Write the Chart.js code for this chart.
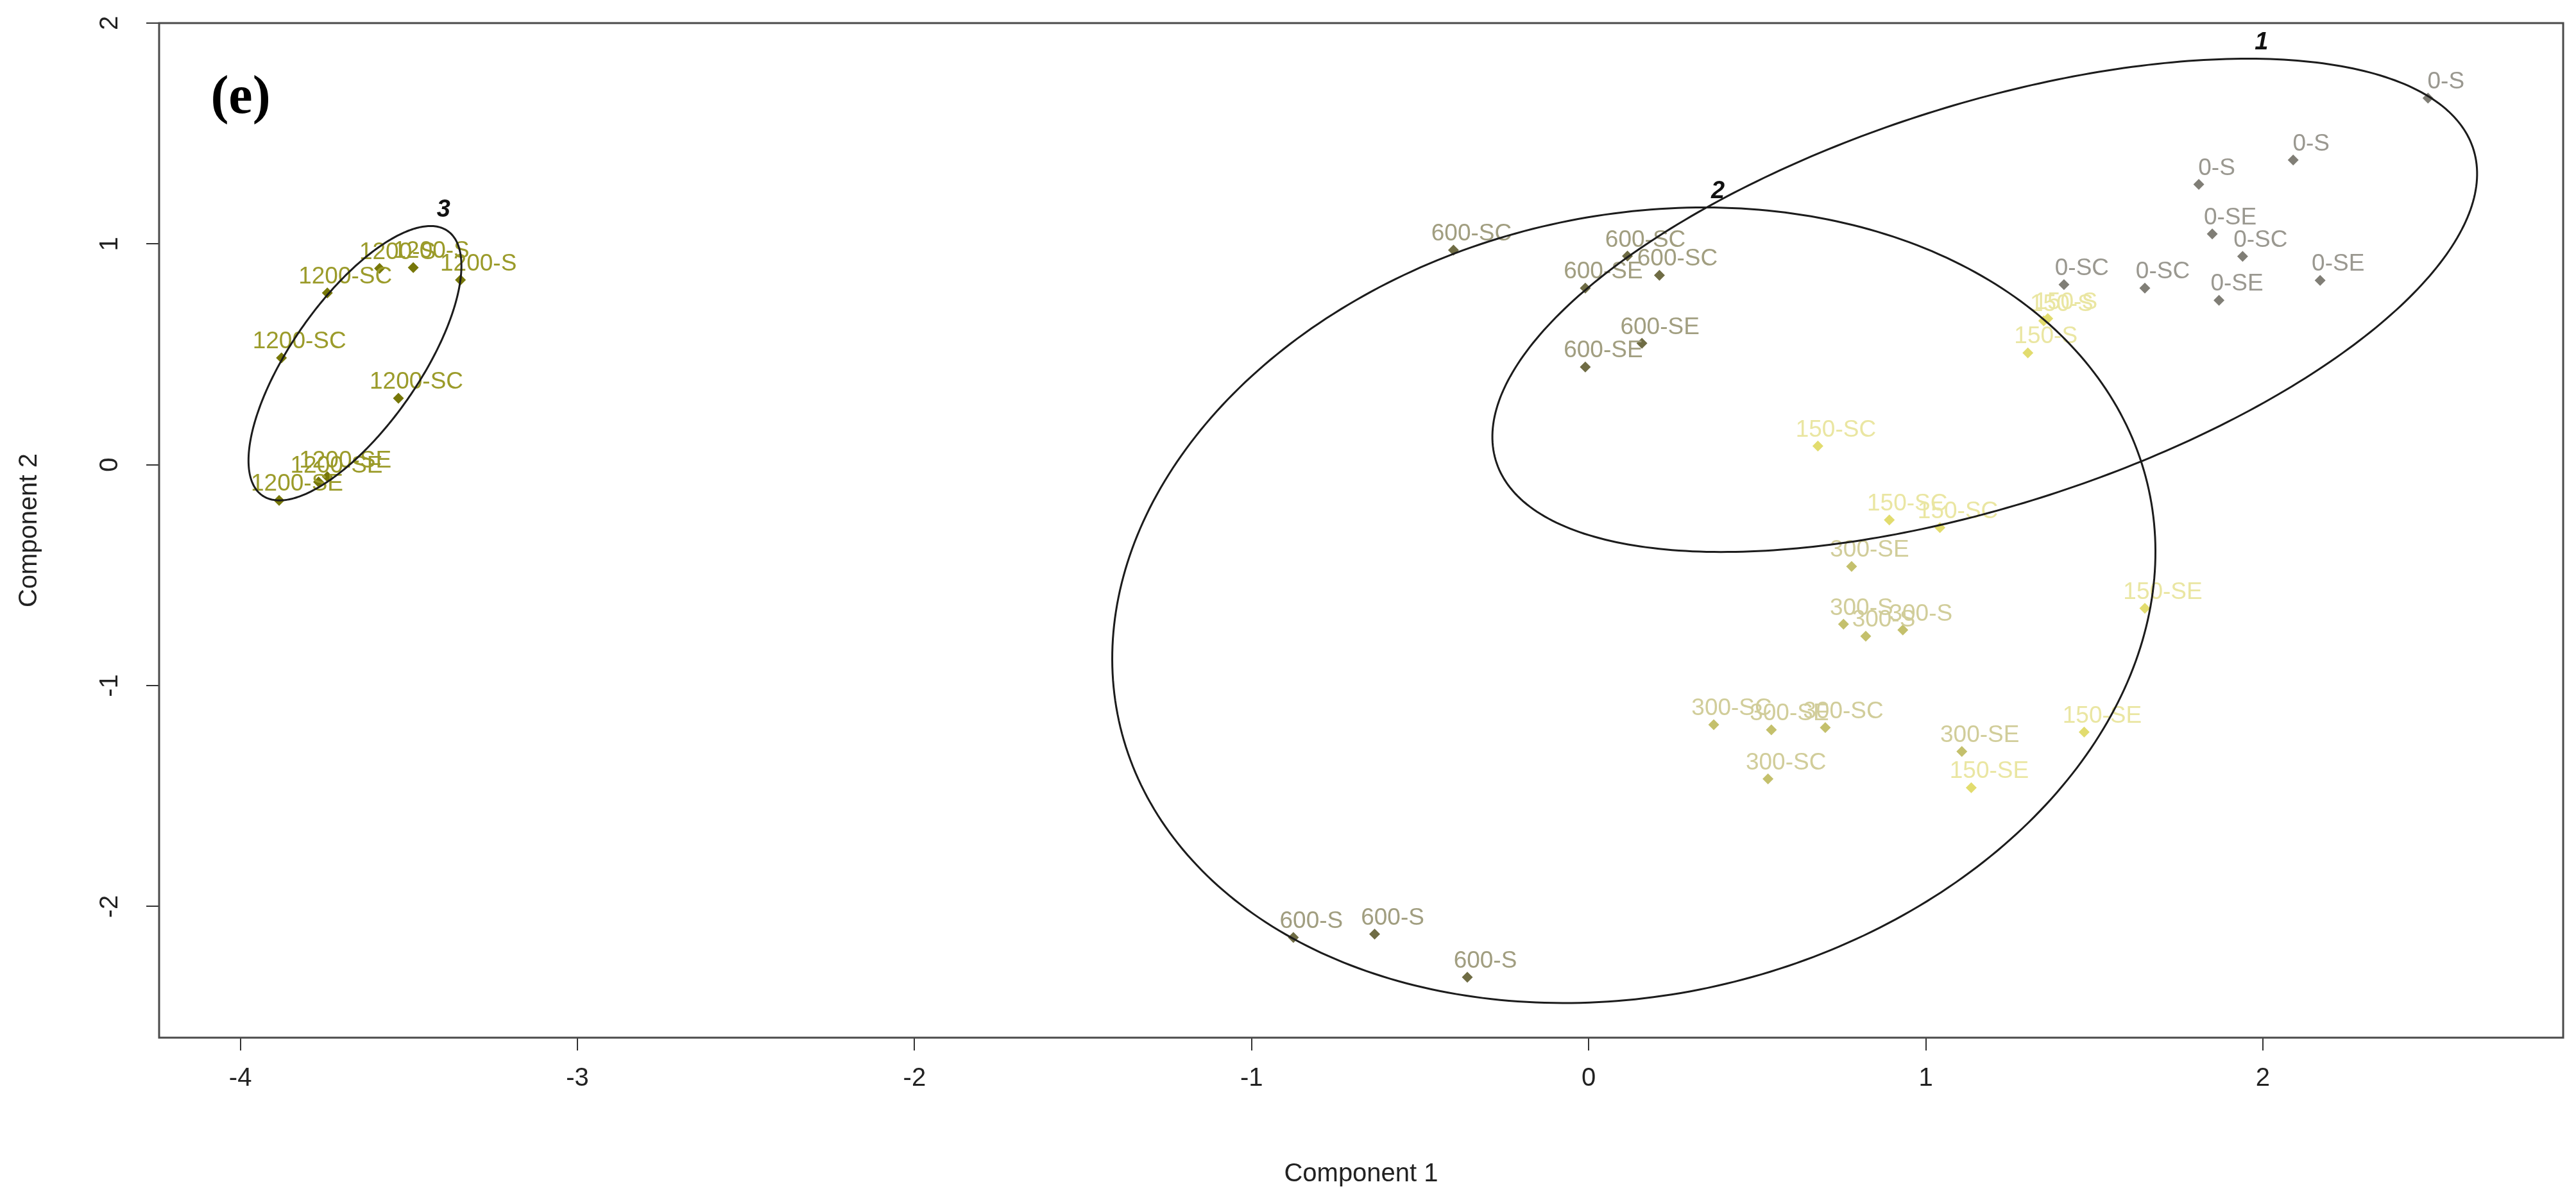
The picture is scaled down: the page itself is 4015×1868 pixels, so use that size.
<!DOCTYPE html>
<html lang="en">
<head>
<meta charset="UTF-8" />
<title>Cluster plot (e)</title>
<script src="https://cdn.jsdelivr.net/npm/chart.js"></script>
<style>
  html, body { margin: 0; padding: 0; background: #ffffff; }
  #wrap { width: 4015px; height: 1868px; }
</style>
</head>
<body>
<div id="wrap"><canvas id="clusterChart" width="4015" height="1868"></canvas></div>

<script>
// ---- values ----
// group 0
const labels0 = ["0-S", "0-S", "0-S", "0-SE", "0-SC", "0-SC", "0-SC", "0-SE", "0-SE"];
const x0 = [2.49, 2.09, 1.81, 1.85, 1.94, 1.41, 1.65, 1.87, 2.17];
const y0 = [1.66, 1.38, 1.27, 1.045, 0.944, 0.816, 0.80, 0.745, 0.835];

// group 150
const labels150 = ["150-S", "150-S", "150-S", "150-SC", "150-SC", "150-SC", "150-SE", "150-SE", "150-SE"];
const x150 = [1.35, 1.362, 1.303, 0.68, 0.892, 1.042, 1.65, 1.47, 1.135];
const y150 = [0.652, 0.662, 0.507, 0.085, -0.25, -0.285, -0.65, -1.21, -1.462];

// group 300
const labels300 = ["300-S", "300-S", "300-S", "300-SC", "300-SC", "300-SC", "300-SE", "300-SE", "300-SE"];
const x300 = [0.756, 0.822, 0.932, 0.371, 0.702, 0.532, 0.78, 0.542, 1.107];
const y300 = [-0.722, -0.776, -0.748, -1.177, -1.19, -1.422, -0.46, -1.2, -1.298];

// group 600
const labels600 = ["600-S", "600-S", "600-S", "600-SC", "600-SC", "600-SC", "600-SE", "600-SE", "600-SE"];
const x600 = [-0.876, -0.635, -0.36, -0.401, 0.115, 0.21, -0.01, 0.158, -0.01];
const y600 = [-2.14, -2.125, -2.32, 0.972, 0.945, 0.858, 0.80, 0.55, 0.443];

// group 1200
const labels1200 = ["1200-S", "1200-S", "1200-S", "1200-SC", "1200-SC", "1200-SC", "1200-SE", "1200-SE", "1200-SE"];
const x1200 = [-3.587, -3.487, -3.347, -3.742, -3.878, -3.531, -3.885, -3.768, -3.742];
const y1200 = [0.889, 0.893, 0.837, 0.778, 0.484, 0.301, -0.161, -0.078, -0.054];

// cluster ellipses: centre, semi-axes, tilt (degrees)
const ellipseNames = ["1", "2", "3"];
const ellipseCx = [1.175, 0.134, -3.660];
const ellipseCy = [0.722, -0.636, 0.460];
const ellipseA = [1.633, 1.840, 0.665];
const ellipseB = [0.845, 1.501, 0.208];
const ellipseAngle = [31.5, 69.3, 67.9];

// axes
const xTickValues = [-4, -3, -2, -1, 0, 1, 2];
const yTickValues = [-2, -1, 0, 1, 2];
const xRange = [-4.241, 2.891];
const yRange = [-2.594, 2.0];

function toPoints(xs, ys) {
  return xs.map((v, i) => ({ x: v, y: ys[i] }));
}

// labels + ellipses + rotated y labels + frame
const overlayPlugin = {
  id: "overlay",
  afterDatasetsDraw(chart) {
    const ctx = chart.ctx;
    const xs = chart.scales.x;
    const ys = chart.scales.y;
    const area = chart.chartArea;
    ctx.save();

    // point labels
    ctx.font = '37px "Liberation Sans", Arial, sans-serif';
    ctx.textAlign = "center";
    ctx.textBaseline = "middle";
    chart.data.datasets.forEach((ds, i) => {
      const meta = chart.getDatasetMeta(i);
      ctx.fillStyle = ds.textColor;
      meta.data.forEach((pt, j) => {
        ctx.fillText(ds.pointLabels[j], pt.x + 28, pt.y - 25);
      });
    });

    // ellipses
    ctx.strokeStyle = "#1c1c1c";
    ctx.lineWidth = 3;
    for (let k = 0; k < ellipseCx.length; k++) {
      const phi = ellipseAngle[k] * Math.PI / 180;
      let top = null;
      ctx.beginPath();
      for (let s = 0; s <= 360; s++) {
        const t = s * Math.PI / 180;
        const dx = ellipseA[k] * Math.cos(t);
        const dy = ellipseB[k] * Math.sin(t);
        const vx = ellipseCx[k] + dx * Math.cos(phi) - dy * Math.sin(phi);
        const vy = ellipseCy[k] + dx * Math.sin(phi) + dy * Math.cos(phi);
        const px = xs.getPixelForValue(vx);
        const py = ys.getPixelForValue(vy);
        if (s === 0) ctx.moveTo(px, py); else ctx.lineTo(px, py);
        if (!top || py < top.y) top = { x: px, y: py };
      }
      ctx.closePath();
      ctx.stroke();
      ctx.font = 'italic bold 38px "Liberation Sans", Arial, sans-serif';
      ctx.fillStyle = "#111111";
      ctx.fillText(ellipseNames[k], top.x + 20, top.y - 25);
    }

    // y tick labels, parallel to the axis like R
    ctx.font = '40px "Liberation Sans", Arial, sans-serif';
    ctx.fillStyle = "#222222";
    ys.ticks.forEach(tk => {
      const py = ys.getPixelForValue(tk.value);
      ctx.save();
      ctx.translate(172, py);
      ctx.rotate(-Math.PI / 2);
      ctx.fillText(String(tk.value), 0, 0);
      ctx.restore();
    });

    // plot frame
    ctx.strokeStyle = "#4a4a4a";
    ctx.lineWidth = 3;
    ctx.strokeRect(area.left, area.top, area.right - area.left, area.bottom - area.top);

    // panel tag
    ctx.font = 'bold 84px "Liberation Serif", "DejaVu Serif", serif';
    ctx.fillStyle = "#000000";
    ctx.fillText("(e)", area.left + 127, area.top + 118);

    ctx.restore();
  }
};

const ctx = document.getElementById("clusterChart").getContext("2d");
new Chart(ctx, {
  type: "scatter",
  data: {
    datasets: [
      { label: "0", data: toPoints(x0, y0), pointLabels: labels0,
        backgroundColor: "#807e76", textColor: "#9a9890" },
      { label: "150", data: toPoints(x150, y150), pointLabels: labels150,
        backgroundColor: "#e2dc6e", textColor: "#eae6a2" },
      { label: "300", data: toPoints(x300, y300), pointLabels: labels300,
        backgroundColor: "#c4c06c", textColor: "#d1cd9a" },
      { label: "600", data: toPoints(x600, y600), pointLabels: labels600,
        backgroundColor: "#6f6c44", textColor: "#a19e80" },
      { label: "1200", data: toPoints(x1200, y1200), pointLabels: labels1200,
        backgroundColor: "#777708", textColor: "#9b9b2a" }
    ]
  },
  options: {
    responsive: false,
    animation: false,
    events: [],
    layout: { padding: { top: 36, right: 20, left: 0, bottom: 0 } },
    elements: {
      point: { pointStyle: "rectRot", radius: 8.5, borderWidth: 0 }
    },
    plugins: {
      legend: { display: false },
      tooltip: { enabled: false }
    },
    scales: {
      x: {
        type: "linear",
        min: xRange[0],
        max: xRange[1],
        afterBuildTicks: s => { s.ticks = xTickValues.map(v => ({ value: v })); },
        afterFit: s => { s.height = 250; },
        border: { display: false },
        grid: { drawOnChartArea: false, drawTicks: true, tickLength: 20, color: "#333333", lineWidth: 2 },
        ticks: { color: "#222222", padding: 20, font: { family: '"Liberation Sans", Arial, sans-serif', size: 40 } },
        title: { display: true, text: "Component 1", color: "#222222", padding: { bottom: 13 },
                 font: { family: '"Liberation Sans", Arial, sans-serif', size: 40 } }
      },
      y: {
        type: "linear",
        min: yRange[0],
        max: yRange[1],
        afterBuildTicks: s => { s.ticks = yTickValues.map(v => ({ value: v })); },
        afterFit: s => { s.width = 248; },
        border: { display: false },
        grid: { drawOnChartArea: false, drawTicks: true, tickLength: 20, color: "#333333", lineWidth: 2 },
        ticks: { display: false },
        title: { display: true, text: "Component 2", color: "#222222", padding: { top: 22 },
                 font: { family: '"Liberation Sans", Arial, sans-serif', size: 40 } }
      }
    }
  },
  plugins: [overlayPlugin]
});
</script>
</body>
</html>
